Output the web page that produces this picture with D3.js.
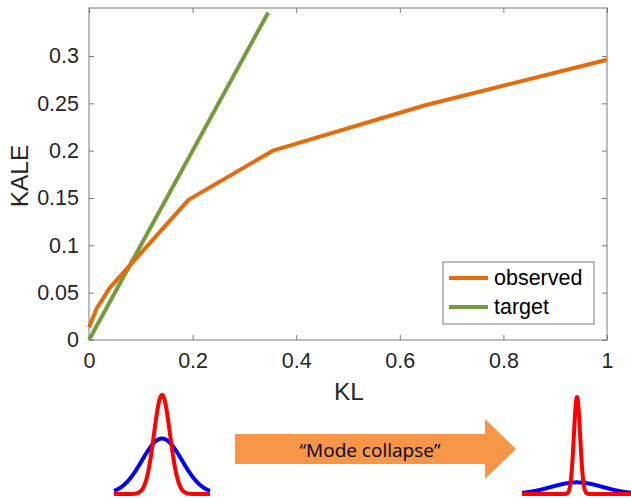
<!DOCTYPE html>
<html lang="en">
<head>
  <meta charset="UTF-8">
  <title>KALE vs KL</title>
  <script src="https://d3js.org/d3.v7.min.js"></script>
  <style>
    body, html { margin: 0; padding: 0; background: #fff; }
    svg { display: block; font-family: "Liberation Sans", Arial, sans-serif; }
    .tick text { fill: #262626; font-size: 21.5px; }
    .axis path, .axis line { stroke: #7a7a7a; }
  </style>
</head>
<body>
  <svg id="chart" width="631" height="498"></svg>
  <script>
    // observed curve
    const observedKL   = [0, 0.015, 0.04, 0.192, 0.355, 0.649, 1.0];
    const observedKALE = [0.0135, 0.0335, 0.055, 0.148, 0.200, 0.248, 0.296];
    // target curve
    const targetKL   = [0, 0.346];
    const targetKALE = [0, 0.346];

    const xTicks = [0, 0.2, 0.4, 0.6, 0.8, 1];
    const yTicks = [0, 0.05, 0.1, 0.15, 0.2, 0.25, 0.3];
    const legendLabels = ["observed", "target"];
    const colors = ["#e46c0a", "#759c3c"];

    // gaussian sketches below the chart: [mean, sigma, peak height]
    const leftRed   = [0, 0.5, 1.0];
    const leftBlue  = [0, 1.25, 0.56];
    const rightRed  = [0, 0.17, 1.0];
    const rightBlue = [0, 1.4, 0.12];

    const svg = d3.select("#chart");
    const m = { left: 89, top: 8, right: 607, bottom: 340 };

    const x = d3.scaleLinear().domain([0, 1]).range([m.left, m.right]);
    const y = d3.scaleLinear().domain([0, 0.3507]).range([m.bottom, m.top]);

    // box
    svg.append("rect")
      .attr("x", m.left).attr("y", m.top)
      .attr("width", m.right - m.left).attr("height", m.bottom - m.top)
      .attr("fill", "none").attr("stroke", "#7a7a7a").attr("stroke-width", 1);

    const xAxis = svg.append("g").attr("class", "axis")
      .attr("transform", `translate(0,${m.bottom})`)
      .call(d3.axisBottom(x).tickValues(xTicks).tickSize(-5).tickPadding(12).tickFormat(d3.format("~g")));
    xAxis.select(".domain").remove();
    xAxis.selectAll("text").attr("dy", "0.71em").attr("y", 13);

    svg.append("g").attr("class", "axis")
      .attr("transform", `translate(0,${m.top})`)
      .call(d3.axisTop(x).tickValues(xTicks).tickSize(-5).tickFormat(""))
      .select(".domain").remove();

    const yAxis = svg.append("g").attr("class", "axis")
      .attr("transform", `translate(${m.left},0)`)
      .call(d3.axisLeft(y).tickValues(yTicks).tickSize(-5).tickPadding(10).tickFormat(d3.format("~g")));
    yAxis.select(".domain").remove();

    svg.append("g").attr("class", "axis")
      .attr("transform", `translate(${m.right},0)`)
      .call(d3.axisRight(y).tickValues(yTicks).tickSize(-5).tickFormat(""))
      .select(".domain").remove();

    // axis labels
    svg.append("text")
      .attr("x", 349).attr("y", 400)
      .attr("text-anchor", "middle")
      .attr("font-size", 24.5).attr("fill", "#262626")
      .text("KL");
    svg.append("text")
      .attr("transform", "translate(28,176) rotate(-90)")
      .attr("text-anchor", "middle")
      .attr("font-size", 24.5).attr("fill", "#262626")
      .text("KALE");

    const line = d3.line().x(d => x(d[0])).y(d => y(d[1]));

    svg.append("path")
      .datum(targetKL.map((k, i) => [k, targetKALE[i]]))
      .attr("d", line).attr("fill", "none")
      .attr("stroke", colors[1]).attr("stroke-width", 4);

    svg.append("path")
      .datum(observedKL.map((k, i) => [k, observedKALE[i]]))
      .attr("d", line).attr("fill", "none")
      .attr("stroke", colors[0]).attr("stroke-width", 4)
      .attr("stroke-linejoin", "round");

    // legend
    const lg = svg.append("g");
    lg.append("rect")
      .attr("x", 443).attr("y", 262).attr("width", 151).attr("height", 62)
      .attr("fill", "#fff").attr("stroke", "#7a7a7a");
    legendLabels.forEach((lab, i) => {
      const ly = 278 + i * 29;
      lg.append("line")
        .attr("x1", 449).attr("x2", 488).attr("y1", ly).attr("y2", ly)
        .attr("stroke", colors[i]).attr("stroke-width", 4);
      lg.append("text")
        .attr("x", 494).attr("y", ly + 7)
        .attr("font-size", 21.5).attr("fill", "#000")
        .text(lab);
    });

    // gaussian sketches
    function gauss(p, t) { return p[2] * Math.exp(-0.5 * ((t - p[0]) / p[1]) ** 2); }
    const tVals = d3.range(-3, 3.0001, 0.01);

    function sketch(cx, halfW, base, top, curves) {
      const gx = d3.scaleLinear().domain([-3, 3]).range([cx - halfW, cx + halfW]);
      const gy = d3.scaleLinear().domain([0, 1]).range([base, top]);
      curves.forEach(([p, col]) => {
        svg.append("path")
          .attr("d", d3.line().x(t => gx(t)).y(t => gy(gauss(p, t)))(tVals))
          .attr("fill", "none").attr("stroke", col).attr("stroke-width", 4)
          .attr("stroke-linejoin", "round");
      });
    }
    sketch(162, 48, 494, 395, [[leftBlue, "#0000ff"], [leftRed, "#ff0000"]]);
    sketch(577, 55, 494, 397, [[rightBlue, "#0000ff"], [rightRed, "#ff0000"]]);

    // arrow
    const arrowPts = [[235, 434], [485, 434], [485, 419], [516, 449], [485, 479], [485, 464], [235, 464]];
    svg.append("polygon")
      .attr("points", arrowPts.map(p => p.join(",")).join(" "))
      .attr("fill", "#f79646");
    svg.append("text")
      .attr("x", 370).attr("y", 457)
      .attr("text-anchor", "middle")
      .attr("font-family", "'Open Sans', sans-serif")
      .attr("font-size", 19).attr("fill", "#000")
      .text("\u201cMode collapse\u201d");
  </script>
</body>
</html>
